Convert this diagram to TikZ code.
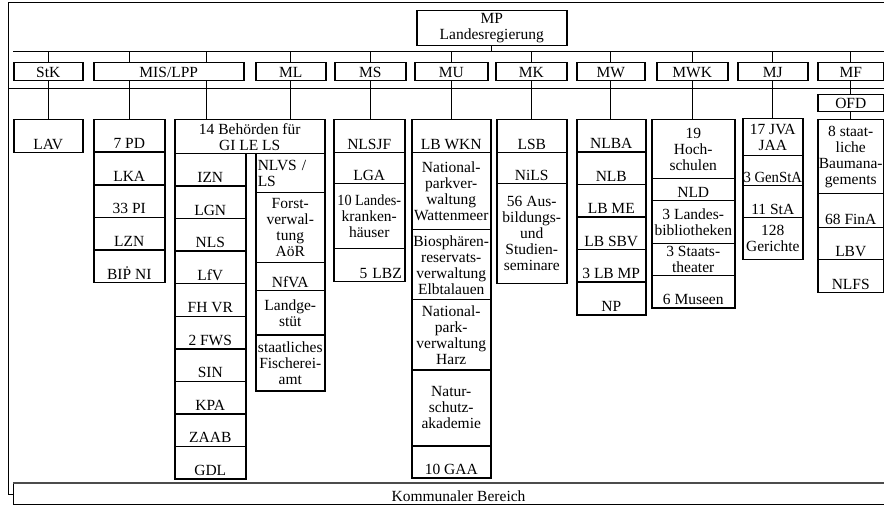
\documentclass[tikz,border=0pt]{standalone}
\usepackage{fontspec}
\setmainfont{Liberation Serif}

\tikzset{
  box/.style={draw, line width=1.5pt, inner sep=0pt, align=center, anchor=north west},
  low/.style={text height=#1, text depth=3.5pt},
  link/.style={line width=1pt},
}
\newcommand\narrow[2][0.92]{\scalebox{#1}[1]{#2}}

\begin{document}
\begin{tikzpicture}[x=1pt, y=-1pt, font=\fontsize{15.5}{16}\selectfont]
  \useasboundingbox (0,0) rectangle (884,505);
  \clip (0,0) rectangle (884,505);

  % head and ministries
  \node[box, minimum width=150, minimum height=35] (mp) at (416,10) {MP\\Landesregierung};
  \foreach \n/\x/\w/\t in {stk/13/69/StK, mis/93/150/{MIS/LPP}, ml/255/70/ML, ms/334/71/MS,
      mu/414/73/MU, mk/495/71/MK, mw/576/68/MW, mwk/656/71/MWK, mj/737/70/MJ, mf/817/66/MF}
    \node[box, minimum width=\w, low=14.5pt] (\n) at (\x,62) {\t};

  % lower level: StK
  \node[box, minimum width=69, low=29.5pt] (lav) at (13,119) {LAV};
  % MIS/LPP
  \foreach \t [count=\i] in {7 PD, LKA, 33 PI, LZN, {BI\.{P} NI}}
    \node[box, minimum width=71, low=29pt] (pd\i) at (93,{119+32.6*(\i-1)}) {\t};
  \node[box, minimum width=150, minimum height=34] (beh) at (174,119) {14 Behörden für\\GI LE LS};
  \foreach \t [count=\i] in {IZN, LGN, NLS, LfV, FH VR, 2 FWS, SIN, KPA, ZAAB, GDL}
    \node[box, minimum width=71, low=29pt] (lz\i) at (174,{153+32.5*(\i-1)}) {\t};
  % ML
  \node[box, text width=65, inner xsep=2pt, minimum height=39, align=left] (nlvs) at (255,153) {NLVS /\\LS};
  \node[box, minimum width=69, minimum height=70] (forst) at (255,192) {Forst-\\verwal-\\tung\\AöR};
  \node[box, minimum width=69, low=24.5pt] (nfva) at (255,262) {NfVA};
  \node[box, minimum width=69, minimum height=44] (gest) at (255,290) {Landge-\\stüt};
  \node[box, minimum width=69, minimum height=56] (fisch) at (255,334) {staatliches\\Fischerei-\\amt};
  % MS
  \node[box, minimum width=71, low=29.5pt] (nlsjf) at (333,119) {NLSJF};
  \node[box, minimum width=71, low=27.5pt] (lga) at (333,152) {LGA};
  \node[box, minimum width=71, minimum height=65] (lkh) at (333,183) {\narrow{10 Landes-}\\kranken-\\häuser};
  \node[box, minimum width=71, text width=65, align=right, low=29.5pt] (lbz) at (333,248) {5 LBZ};
  % MU
  \node[box, minimum width=79, low=29.5pt] (lbwkn) at (411,119) {LB WKN};
  \node[box, minimum width=79, minimum height=77] (npw) at (411,152) {National-\\parkver-\\waltung\\Wattenmeer};
  \node[box, minimum width=79, minimum height=70] (bio) at (411,229) {Biosphären-\\reservats-\\verwaltung\\Elbtalauen};
  \node[box, minimum width=79, minimum height=70] (nph) at (411,299) {National-\\park-\\verwaltung\\Harz};
  \node[box, minimum width=79, minimum height=76] (nsa) at (411,369) {Natur-\\schutz-\\akademie};
  \node[box, minimum width=79, low=28.5pt] (gaa) at (411,445) {10 GAA};
  % MK
  \node[box, minimum width=70, low=29.5pt] (lsb) at (496,119) {LSB};
  \node[box, minimum width=70, low=27.5pt] (nils) at (496,152) {NiLS};
  \node[box, minimum width=70, minimum height=100] (sem) at (496,183) {56 Aus-\\bildungs-\\und\\Studien-\\seminare};
  % MW
  \foreach \t [count=\i] in {NLBA, NLB, LB ME, LB SBV, 3 LB MP, NP}
    \node[box, minimum width=69, low=29pt] (wc\i) at (576,{119+32.5*(\i-1)}) {\t};
  % MWK
  \node[box, minimum width=83, minimum height=59] (hoch) at (651,119) {19\\Hoch-\\schulen};
  \node[box, minimum width=83, low=18.5pt] (nld) at (651,178) {NLD};
  \node[box, minimum width=83, minimum height=43] (lbib) at (651,200) {3 Landes-\\bibliotheken};
  \node[box, minimum width=83, minimum height=32] (sth) at (651,243) {3 Staats-\\theater};
  \node[box, minimum width=83, low=28.5pt] (mus) at (651,275) {6 Museen};
  % MJ
  \node[box, minimum width=60, minimum height=37] (jva) at (742,118) {17 JVA\\JAA};
  \node[box, minimum width=60, low=26.5pt] (gsta) at (742,155) {\narrow[0.95]{3 GenStA}};
  \node[box, minimum width=60, low=28.5pt] (sta) at (742,185) {11 StA};
  \node[box, minimum width=60, minimum height=42] (ger) at (742,217) {128\\Gerichte};
  % MF
  \node[box, minimum width=66, low=13.5pt] (ofd) at (817,94) {OFD};
  \node[box, minimum width=66, minimum height=74] (baum) at (817,119) {8 staat-\\liche\\Baumana-\\gements};
  \node[box, minimum width=66, low=30.5pt] (fina) at (817,193) {68 FinA};
  \node[box, minimum width=66, low=28.5pt] (lbv) at (817,227) {LBV};
  \node[box, minimum width=66, low=29.5pt] (nlfs) at (817,259) {NLFS};

  % bottom bar
  \node[box, line width=1pt, minimum width=890, low=17.5pt] (kom) at (13,483) {Kommunaler Bereich};
  \draw[line width=2.4pt, black!70] (kom.north west) -- (kom.north east);

  % frame
  \draw[link] (kom.west) -| (8,3) -- (890,3);
  \draw[link] (8,89) -- (890,89);

  % bus
  \coordinate (busL) at (13,52);
  \coordinate (busR) at (890,52);
  \draw[link] (busL) -- (busR);
  \draw[link] (mp.south) -- (mp.south |- busL);
  \foreach \n in {stk,ml,ms,mu,mk,mw,mwk,mj,mf}
    \draw[link] (\n.north) -- (\n.north |- busL);
  \draw[link] (mis.north -| pd1.north) -- (busL -| pd1.north);
  \draw[link] ([xshift=-38]mis.north east) -- ([xshift=-38]mis.north east |- busL);

  % ministry to office
  \foreach \n/\c in {stk/lav, ml/beh, ms/nlsjf, mu/lbwkn, mk/lsb, mw/wc1, mwk/hoch, mj/jva, mf/ofd}
    \draw[link] (\n.south) -- (\n.south |- \c.north);
  \draw[link] (mis.south -| pd1.north) -- (pd1.north);
  \draw[link] ([xshift=-38]mis.south east) -- ([xshift=-38]mis.south east |- beh.north);
  \draw[link] (ofd.south) -- (baum.north);
\end{tikzpicture}
\end{document}
